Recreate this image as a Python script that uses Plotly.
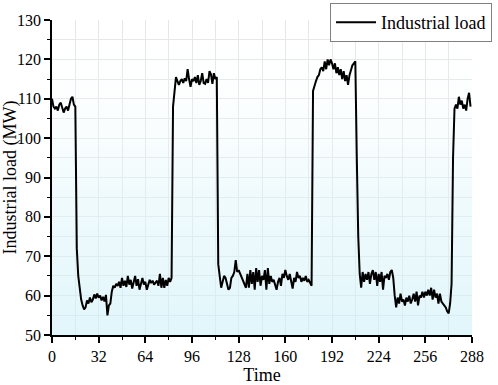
import plotly.graph_objects as go

# ---- data ----
seg_a = [110, 108, 107.5, 108, 107, 108.5, 109, 107.5, 106.5, 107.5, 108, 107, 109, 110, 110.5, 108.5, 108]  # t=0..16
drop_1 = [72, 65, 61.5, 59, 57.5, 56.5]  # t=17..22
low_1 = [57, 58.8, 58, 59.5, 58.3, 59, 60.3, 59.3, 60.5, 59.5, 60, 58.8, 59.7, 58.5, 60.2, 55, 57.5, 58, 61, 62.5, 62]  # t=23..43
mid_1 = [63, 62.5, 63.5, 62, 64.5, 62.5, 63.8, 62.2, 65, 62.8, 64, 61.8, 63.5, 65, 62.5, 64.2, 61.5, 63, 64.5, 62.8,
         63.5, 61.5, 63, 64, 63.2, 63.8, 62.8, 63.5, 63.8, 62.5, 65.5, 62, 64.5, 62, 64, 62.5, 64.5, 63.5, 64.5]  # t=44..82
rise_1 = [108, 112.5, 115.5]  # t=83..85
high_1 = [114.5, 113.5, 114.5, 115, 114, 115.2, 114.5, 117.5, 115, 113, 115, 114.5, 115.5, 114, 116, 113.5, 114.5,
          116.5, 114, 113.8, 115, 114, 117, 116.2, 113.8, 116.5, 115, 115.5]  # t=86..113
mid_2 = [68, 64.5, 62, 63.5, 65, 64.5, 62.5, 61.5, 62, 64.5, 65, 66, 69, 66, 66.5, 65.5, 64.5, 63.5, 63, 62, 65.5, 62,
         66.5, 63, 66, 61.5, 67, 63.5, 66.5, 62.5, 65, 64, 66.5, 61.5, 67, 63, 65, 63.5, 64, 62.5, 61.5, 63.5, 64.5,
         62.5, 65.5, 64.5, 66.5, 65, 64, 65.5, 64, 61.8, 64.5, 63.5, 66, 64.5, 65, 63.5, 64.5, 63.8, 65, 63.5, 64, 63,
         62.5]  # t=114..178
high_2 = [112, 113.5, 114.5, 115.5, 116, 117.5, 118, 117, 119.5, 117.5, 120, 118.5, 120, 119, 117.5, 119, 116.5, 118,
          116, 117.5, 115, 117, 114.5, 116, 113.5, 116, 117.5, 118.5, 119, 119.5]  # t=179..208
drop_2 = [95, 75, 65.5, 62]  # t=209..212
mid_3 = [66, 63.5, 65.5, 64, 66, 63, 65.5, 66.5, 64, 66, 62.5, 65.5, 63.5, 66, 61.5, 65, 64.5, 65.5, 64, 66, 66.5,
         64.5]  # t=213..234
low_2 = [60, 57, 59.5, 58, 60.5, 58.5, 59, 57.5, 59.5, 58.5, 60, 58, 59, 60.5, 58.5, 61, 57.5, 60, 59.5, 61, 59.5, 61,
         60, 61.5, 60, 62, 59, 61.5, 59.5, 60.5, 58, 60.5, 58.5, 58, 57.5, 57, 56, 55.5, 58, 63]  # t=235..274
high_3 = [95, 107.5, 108.5, 107.5, 110.5, 108.5, 109.5, 107.5, 108.5, 107, 110, 111.5, 108]  # t=275..287

load = seg_a + drop_1 + low_1 + mid_1 + rise_1 + high_1 + mid_2 + high_2 + drop_2 + mid_3 + low_2 + high_3
time = list(range(len(load)))

x_range = [0, 288]
y_range = [50, 130]
x_ticks = [0, 32, 64, 96, 128, 160, 192, 224, 256, 288]
y_ticks = [50, 60, 70, 80, 90, 100, 110, 120, 130]

FONT = "Liberation Serif"

fig = go.Figure()

# background gradient of the plotting area (light cyan at bottom -> white at top)
fig.add_trace(go.Scatter(
    x=[x_range[0], x_range[1], x_range[1], x_range[0], x_range[0]],
    y=[y_range[0], y_range[0], y_range[1], y_range[1], y_range[0]],
    mode="lines", line=dict(width=0), fill="toself",
    fillgradient=dict(type="vertical",
                      colorscale=[[0, "rgba(205,240,248,0.6)"], [0.45, "rgba(222,245,250,0.45)"],
                                  [1, "rgba(255,255,255,0)"]]),
    hoverinfo="skip", showlegend=False,
))

fig.add_trace(go.Scatter(
    x=time, y=load, mode="lines", name="Industrial load",
    line=dict(color="black", width=2),
))

axis_common = dict(
    showline=True, linecolor="black", linewidth=1.5,
    ticks="outside", ticklen=6, tickwidth=1.5, tickcolor="black",
    showgrid=False, zeroline=False, automargin=False,
    tickfont=dict(family=FONT, size=16, color="black"),
)

fig.update_xaxes(
    range=x_range, tickvals=x_ticks, ticktext=[str(v) for v in x_ticks],
    title=dict(text="Time", font=dict(family=FONT, size=18, color="black"), standoff=6),
    minor=dict(dtick=16, tick0=0, ticks="outside", ticklen=3, tickwidth=1.2, tickcolor="black",
               showgrid=True, gridcolor="#e6e6e6", gridwidth=1),
    **axis_common,
)
fig.update_yaxes(
    range=y_range, tickvals=y_ticks, ticktext=[str(v) for v in y_ticks],
    title=dict(text="Industrial load (MW)", font=dict(family=FONT, size=18, color="black"), standoff=4),
    minor=dict(dtick=5, tick0=0, ticks="outside", ticklen=3, tickwidth=1.2, tickcolor="black",
               showgrid=True, gridcolor="#e6e6e6", gridwidth=1),
    **axis_common,
)

fig.update_layout(
    width=498, height=385,
    margin=dict(l=52, r=26, t=20, b=50, autoexpand=False),
    paper_bgcolor="white", plot_bgcolor="white",
    showlegend=True,
    legend=dict(xref="container", yref="container", x=0.988, y=0.992,
                xanchor="right", yanchor="top",
                bgcolor="white", bordercolor="#808080", borderwidth=1,
                font=dict(family=FONT, size=18, color="black"),
                itemwidth=40, tracegroupgap=0),
)

fig.write_html("out.html", config={"displayModeBar": False})

# remove the browser's default page margin so the figure sits at the top-left corner
with open("out.html", "r", encoding="utf-8") as f:
    html = f.read()
html = html.replace("<head>", "<head><style>html,body{margin:0;padding:0;}</style>", 1)
with open("out.html", "w", encoding="utf-8") as f:
    f.write(html)
